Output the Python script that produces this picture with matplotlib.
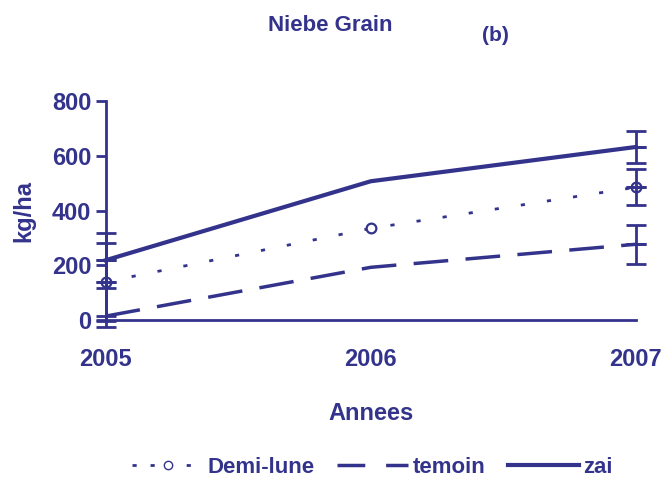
import matplotlib
matplotlib.use("Agg")
import matplotlib.pyplot as plt
from matplotlib.lines import Line2D

plt.rcParams['font.family'] = ['Liberation Sans', 'DejaVu Sans']
plt.rcParams['font.weight'] = 'bold'

# datos
annees = [2005, 2006, 2007]
demi_lune = [140, 335, 485]
demi_lune_err_bas = [142, 0, 65]
demi_lune_err_haut = [142, 0, 65]
temoin = [15, 193, 277]
temoin_err_bas = [40, 0, 71]
temoin_err_haut = [0, 0, 71]
zai = [219, 507, 632]
zai_err_bas = [100, 0, 58]
zai_err_haut = [100, 0, 58]

col = '#33338c'

fig = plt.figure(figsize=(6.65, 4.83), dpi=100)
ax = fig.add_axes([0.159, 0.337, 0.797, 0.454])

series = [
    (demi_lune, demi_lune_err_bas, demi_lune_err_haut,
     dict(lw=2, ls=(0, (1.5, 8)), marker='o', mfc='white', mec=col, ms=7, mew=1.6)),
    (temoin, temoin_err_bas, temoin_err_haut, dict(lw=2.5, ls=(0, (10, 5)))),
    (zai, zai_err_bas, zai_err_haut, dict(lw=3, ls='-')),
]
for vals, eb, eh, st in series:
    ax.plot(annees, vals, color=col, clip_on=False, **st)
    # barras de error solo donde hay valor (cada lado por separado)
    for i in range(len(annees)):
        if eb[i] > 0:
            ax.errorbar([annees[i]], [vals[i]], yerr=[[eb[i]], [0]], fmt='none',
                        ecolor=col, elinewidth=2, capsize=7, capthick=2, clip_on=False)
        if eh[i] > 0:
            ax.errorbar([annees[i]], [vals[i]], yerr=[[0], [eh[i]]], fmt='none',
                        ecolor=col, elinewidth=2, capsize=7, capthick=2, clip_on=False)

ax.set_xlim(2005, 2007)
ax.set_ylim(0, 800)
ax.set_xticks(annees)
ax.set_yticks([0, 200, 400, 600, 800])
ax.spines['top'].set_visible(False)
ax.spines['right'].set_visible(False)
for s in ['left', 'bottom']:
    ax.spines[s].set_color(col)
    ax.spines[s].set_linewidth(2)
ax.tick_params(colors=col, labelsize=17, width=2, length=7)
ax.tick_params(axis='x', length=0, pad=20)
for lab in ax.get_xticklabels() + ax.get_yticklabels():
    lab.set_fontweight('bold')

ax.set_xlabel('Annees', color=col, fontsize=17, fontweight='bold', labelpad=22)
ax.set_ylabel('kg/ha', color=col, fontsize=17, fontweight='bold', labelpad=12)

fig.text(0.497, 0.935, 'Niebe Grain', color=col, fontsize=16, fontweight='bold', ha='center')
fig.text(0.745, 0.915, '(b)', color=col, fontsize=15, fontweight='bold', ha='center')

handles = [
    Line2D([], [], color=col, lw=2, ls=(0, (1.5, 5)), marker='o', mfc='white', mec=col, ms=6),
    Line2D([], [], color=col, lw=2.5, ls=(0, (8, 6))),
    Line2D([], [], color=col, lw=3),
]
leg = fig.legend(handles, ['Demi-lune', 'temoin', 'zai'], loc='center',
                 bbox_to_anchor=(0.56, 0.032), ncol=3, frameon=False,
                 fontsize=16, handlelength=3.2, handletextpad=0.2, columnspacing=1.0)
for t in leg.get_texts():
    t.set_color(col)
    t.set_fontweight('bold')

fig.savefig('out.png', dpi=100)
